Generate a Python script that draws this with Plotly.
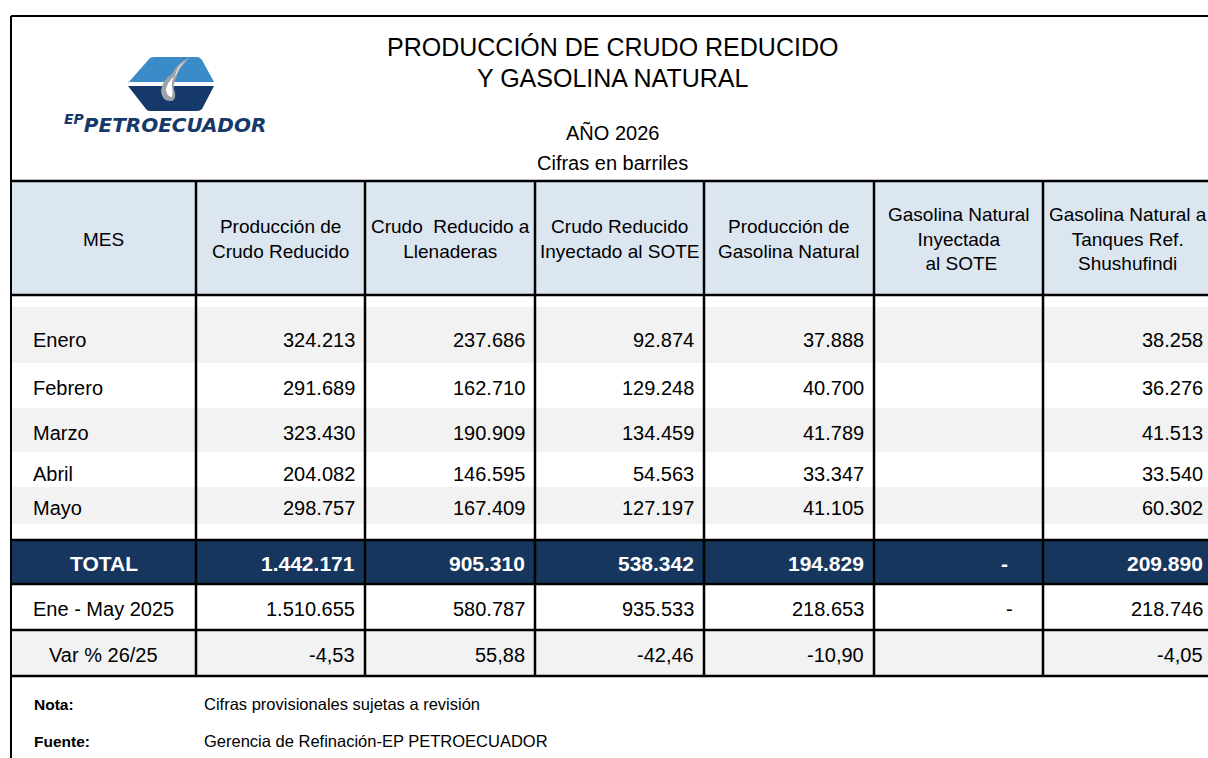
import plotly.graph_objects as go

# ---------------- DATA ----------------
meses = ["Enero", "Febrero", "Marzo", "Abril", "Mayo"]
columnas = [
    "MES",
    "Producción de<br>Crudo Reducido",
    "Crudo  Reducido a<br>Llenaderas",
    "Crudo Reducido<br>Inyectado al SOTE",
    "Producción de<br>Gasolina Natural",
    "Gasolina Natural<br>Inyectada<br> al SOTE",
    "Gasolina Natural a<br>Tanques Ref.<br>Shushufindi",
]
prod_crudo_reducido = [324213, 291689, 323430, 204082, 298757]
crudo_llenaderas = [237686, 162710, 190909, 146595, 167409]
crudo_inyectado_sote = [92874, 129248, 134459, 54563, 127197]
prod_gasolina_natural = [37888, 40700, 41789, 33347, 41105]
gasolina_inyectada_sote = [None, None, None, None, None]
gasolina_shushufindi = [38258, 36276, 41513, 33540, 60302]

total_2026 = [1442171, 905310, 538342, 194829, 0, 209890]
ene_may_2025 = [1510655, 580787, 935533, 218653, 0, 218746]
var_pct = [-4.53, 55.88, -42.46, -10.90, None, -4.05]

titulo = ["PRODUCCIÓN DE CRUDO REDUCIDO", "Y GASOLINA NATURAL"]
subtitulo = ["AÑO 2026", "Cifras en barriles"]
nota = ("Nota:", "Cifras provisionales sujetas a revisión")
fuente = ("Fuente:", "Gerencia de Refinación-EP PETROECUADOR")

series = [prod_crudo_reducido, crudo_llenaderas, crudo_inyectado_sote,
          prod_gasolina_natural, gasolina_inyectada_sote, gasolina_shushufindi]

# ---------------- LAYOUT GEOMETRY ----------------
W, H = 1208, 758
col_edges = [11, 196, 365, 535, 704, 874, 1043, 1213]
y_top = 16
y_head_top, y_head_bot = 181, 295
row_bands = [(307, 363), (363, 408), (408, 452), (452, 487), (487, 524)]
row_text_y = [340, 388, 433, 474, 508]
y_total = (540, 584)
y_prev = (584, 630)
y_var = (630, 676)

FONT = "Liberation Sans, Arial, sans-serif"
BLUE_HEAD = "#DCE6F1"
GRAY = "#F2F2F2"
NAVY = "#17365D"
BODY = 20


def fmt_int(v):
    if v is None:
        return ""
    if v == 0:
        return "-"
    return f"{v:,.0f}".replace(",", ".")


def fmt_pct(v):
    if v is None:
        return ""
    return f"{v:.2f}".replace(".", ",")


fig = go.Figure()
shapes = []
ann = []


def rect(x0, y0, x1, y1, color):
    shapes.append(dict(type="rect", xref="x", yref="y", x0=x0, y0=y0, x1=x1, y1=y1,
                       fillcolor=color, line=dict(width=0), layer="below"))


def line(x0, y0, x1, y1, w=2.5):
    shapes.append(dict(type="line", xref="x", yref="y", x0=x0, y0=y0, x1=x1, y1=y1,
                       line=dict(color="black", width=w)))


def text(x, y, s, size=BODY, anchor="center", color="black", bold=False, family=FONT):
    if not s:
        return
    if bold:
        s = f"<b>{s}</b>"
    ann.append(dict(x=x, y=y, xref="x", yref="y", text=s, showarrow=False,
                    xanchor=anchor, yanchor="middle", align=anchor if anchor != "center" else "center",
                    font=dict(family=family, size=size, color=color)))


# backgrounds
rect(col_edges[0], y_head_top, W + 10, y_head_bot, BLUE_HEAD)
for i, (a, b) in enumerate(row_bands):
    if i % 2 == 0:
        rect(col_edges[0], a, W + 10, b, GRAY)
rect(col_edges[0], y_total[0], W + 10, y_total[1], NAVY)
rect(col_edges[0], y_var[0], W + 10, y_var[1], GRAY)

# grid lines
line(col_edges[0], y_top, W + 10, y_top, 2)
line(col_edges[0], y_top, col_edges[0], H + 5, 2)
for y in [y_head_top, y_head_bot, y_total[0], y_total[1], y_prev[1], y_var[1]]:
    line(col_edges[0], y, W + 10, y)
for x in col_edges[1:-1]:
    line(x, y_head_top, x, y_var[1])

# logo
shapes.append(dict(type="path", xref="x", yref="y",
                   path="M 128 83 L 150 58 Q 152 57 155 57 L 197 57 Q 200 57 202 60 L 214 82 L 128 82 Z",
                   fillcolor="#3A8CC8", line=dict(width=0)))
shapes.append(dict(type="path", xref="x", yref="y",
                   path="M 128 86 L 214 86 L 202 109 Q 200 111 197 111 L 150 111 Q 147 111 146 109 Z",
                   fillcolor="#16396B", line=dict(width=0)))
shapes.append(dict(type="path", xref="x", yref="y",
                   path="M 190 57 Q 176 64 172 74 Q 162 80 161 91 Q 162 102 172 101 Q 176 99 175 93 "
                        "Q 172 86 176 78 Q 179 68 190 57 Z",
                   fillcolor="#9EA3A8", line=dict(width=0)))
shapes.append(dict(type="path", xref="x", yref="y",
                   path="M 186 60 Q 177 66 175 76 Q 167 82 166 90 Q 167 97 172 97 Q 173 92 172 87 "
                        "Q 171 80 176 75 Q 179 66 186 60 Z",
                   fillcolor="white", line=dict(width=0)))
text(62, 124, "<i><sup>EP</sup>PETROECUADOR</i>", size=20, color="#16396B", bold=True,
     family="DejaVu Sans, sans-serif", anchor="left")

# titles
text(612, 47, titulo[0], size=25)
text(612, 78, titulo[1], size=25)
text(612, 132, subtitulo[0], size=20)
text(612, 163, subtitulo[1], size=20)

# column headers
for i, c in enumerate(columnas):
    cx = (col_edges[i] + col_edges[i + 1]) / 2
    text(cx, 239, c, size=19)

# month rows
for r, m in enumerate(meses):
    text(31, row_text_y[r], m, anchor="left")
    for j, s in enumerate(series):
        text(col_edges[j + 2] - 8, row_text_y[r], fmt_int(s[r]), anchor="right")

# total row
yc = (y_total[0] + y_total[1]) / 2 + 1
text((col_edges[0] + col_edges[1]) / 2, yc, "TOTAL", size=21, color="white", bold=True)
for j, v in enumerate(total_2026):
    s = fmt_int(v)
    pad = 33 if s == "-" else 8
    text(col_edges[j + 2] - pad, yc, s, size=21, color="white", bold=True, anchor="right")

# previous year row
yc = (y_prev[0] + y_prev[1]) / 2 + 2
text((col_edges[0] + col_edges[1]) / 2, yc, "Ene - May 2025")
for j, v in enumerate(ene_may_2025):
    s = fmt_int(v)
    pad = 28 if s == "-" else 8
    text(col_edges[j + 2] - pad, yc, s, anchor="right")

# variation row
yc = (y_var[0] + y_var[1]) / 2 + 2
text((col_edges[0] + col_edges[1]) / 2, yc, "Var % 26/25")
for j, v in enumerate(var_pct):
    text(col_edges[j + 2] - 8, yc, fmt_pct(v), anchor="right")

# footnotes
text(32, 704, nota[0], size=15.5, anchor="left", bold=True)
text(202, 704, nota[1], size=16.5, anchor="left")
text(32, 741, fuente[0], size=15.5, anchor="left", bold=True)
text(202, 741, fuente[1], size=16.5, anchor="left")

fig.update_layout(
    width=W, height=H,
    margin=dict(l=0, r=0, t=0, b=0),
    paper_bgcolor="white", plot_bgcolor="white",
    xaxis=dict(range=[0, W], visible=False, fixedrange=True),
    yaxis=dict(range=[H, 0], visible=False, fixedrange=True),
    shapes=shapes, annotations=ann, showlegend=False,
)
fig.write_html("out.html",
               config={"displayModeBar": False},
               post_script="document.body.style.margin='0';document.body.style.overflow='hidden';")
